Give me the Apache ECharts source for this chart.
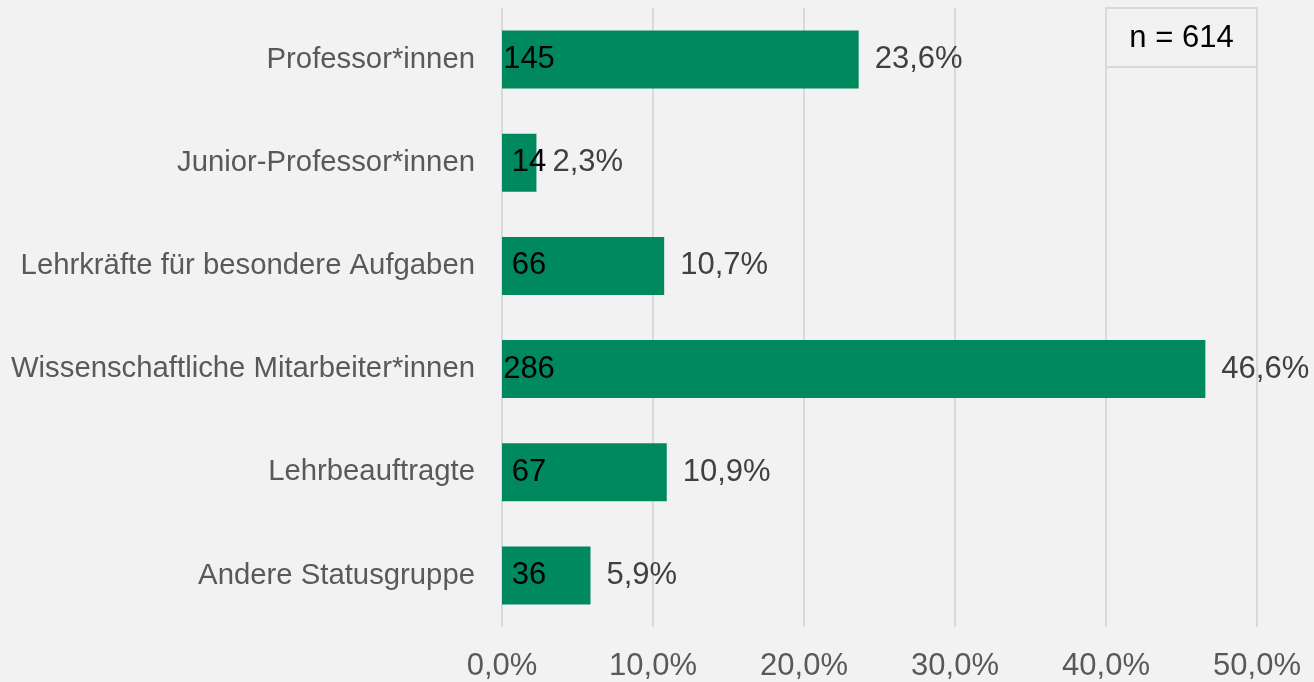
<!DOCTYPE html>
<html>
<head>
<meta charset="utf-8">
<script src="https://cdn.jsdelivr.net/npm/echarts@6/dist/echarts.min.js"></script>
<style>
  html, body { margin: 0; padding: 0; background: #f2f2f2; }
  #main { width: 1314px; height: 682px; }
</style>
</head>
<body>
<div id="main"></div>
<script>
// Statusgruppen, Anzahl und Anteil (n = 614)
var categories = ['Professor*innen', 'Junior-Professor*innen', 'Lehrkräfte für besondere Aufgaben',
                  'Wissenschaftliche Mitarbeiter*innen', 'Lehrbeauftragte', 'Andere Statusgruppe'];
var counts = [145, 14, 66, 286, 67, 36];
var shares = [23.62, 2.28, 10.74, 46.58, 10.91, 5.86];
var xTicks = [0, 10, 20, 30, 40, 50];
var sampleNote = 'n = 614';

var font = 'Liberation Sans, Arial, sans-serif';
function pct(v) { return v.toFixed(1).replace('.', ',') + '%'; }

var chart = echarts.init(document.getElementById('main'));

var option = {
    backgroundColor: '#f2f2f2',
    animation: false,
    grid: { left: 502, right: 57, top: 8, bottom: 54, containLabel: false },
    xAxis: {
        type: 'value',
        min: xTicks[0],
        max: xTicks[xTicks.length - 1],
        interval: 10,
        axisLine: { show: false },
        axisTick: { show: false },
        splitLine: { lineStyle: { color: '#d9d9d9', width: 2 } },
        axisLabel: {
            formatter: function (v) { return pct(v); },
            color: '#595959', fontSize: 31, fontFamily: font, margin: 24
        }
    },
    yAxis: {
        type: 'category',
        inverse: true,
        data: categories,
        axisLine: { show: false },
        axisTick: { show: false },
        axisLabel: { color: '#595959', fontSize: 29.3, fontFamily: font, margin: 27 }
    },
    series: [
        {
            type: 'bar',
            data: shares,
            barWidth: 58,
            itemStyle: { color: '#00885f' },
            label: {
                show: true,
                position: 'right',
                distance: 16,
                formatter: function (p) { return pct(p.value); },
                color: '#404040', fontSize: 31, fontFamily: font
            }
        },
        {
            // unsichtbare Deckschicht für die Anzahl im Balken
            type: 'bar',
            data: shares,
            barWidth: 58,
            barGap: '-100%',
            silent: true,
            itemStyle: { color: 'rgba(0,0,0,0)' },
            label: {
                show: true,
                position: [27, '50%'],
                align: 'center',
                verticalAlign: 'middle',
                formatter: function (p) { return counts[p.dataIndex]; },
                color: '#000000', fontSize: 31, fontFamily: font
            }
        }
    ]
};

chart.setOption(option);

// Kasten mit n oben rechts, an die Gitterlinien 40 % und 50 % gebunden
var x0 = chart.convertToPixel({ xAxisIndex: 0 }, 40);
var x1 = chart.convertToPixel({ xAxisIndex: 0 }, 50);
chart.setOption({
    graphic: [{
        type: 'rect',
        shape: { x: x0, y: 8, width: x1 - x0, height: 59 },
        style: { fill: '#f2f2f2', stroke: '#d9d9d9', lineWidth: 2 },
        z: 10
    }, {
        type: 'text',
        x: (x0 + x1) / 2,
        y: 38,
        style: {
            text: sampleNote, fill: '#000000', fontSize: 31, fontFamily: font,
            align: 'center', verticalAlign: 'middle'
        },
        z: 11
    }]
});
</script>
</body>
</html>
